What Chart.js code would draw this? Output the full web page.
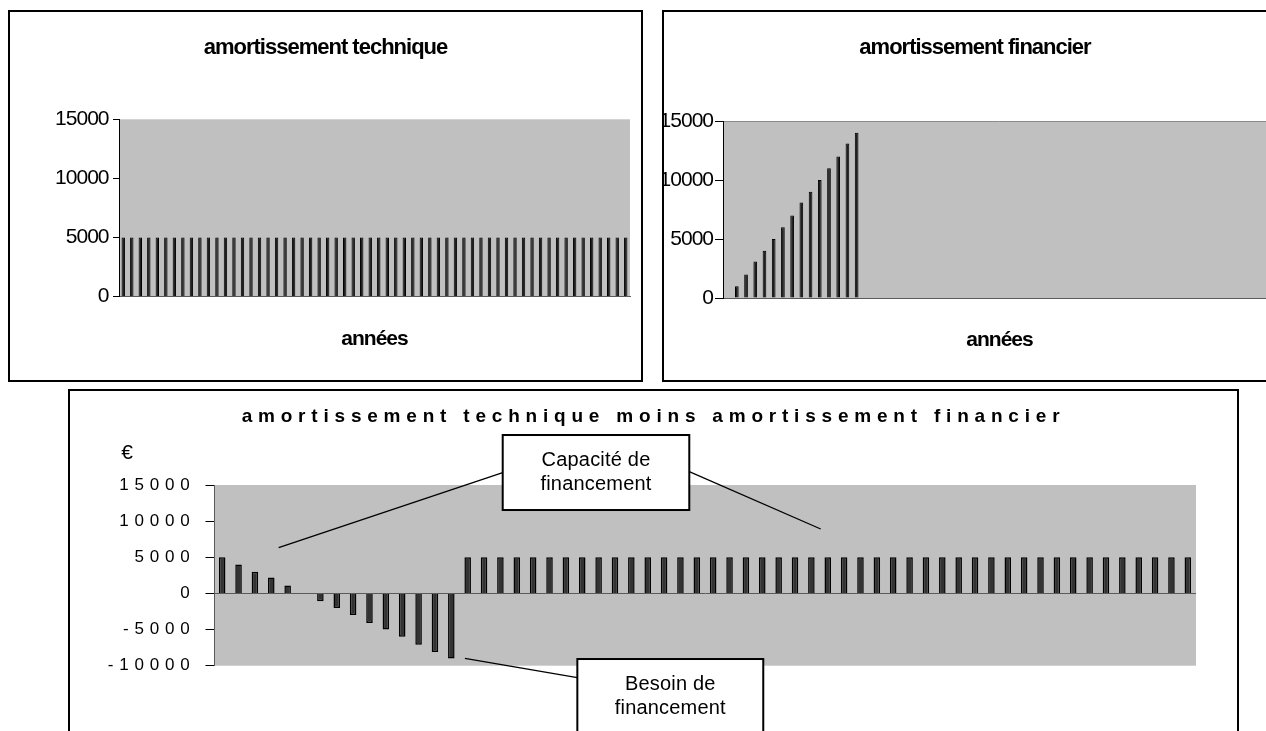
<!DOCTYPE html>
<html>
<head>
<meta charset="utf-8">
<title>amortissement technique / financier</title>
<script src="https://cdn.jsdelivr.net/npm/chart.js@4.4.1/dist/chart.umd.min.js"></script>
<style>
html, body { margin: 0; padding: 0; background: #fff; overflow: hidden; width: 1266px; height: 731px; }
.cadre { position: absolute; border: 2px solid #000; box-sizing: border-box; background: #fff; }
#cadre1 { left: 8px; top: 10px; width: 635px; height: 372px; }
#cadre2 { left: 662px; top: 10px; width: 626px; height: 372px; }
#cadre3 { left: 68px; top: 389px; width: 1171px; height: 400px; }
</style>
</head>
<body>
<div class="cadre" id="cadre1"><canvas id="graphTechnique"></canvas></div>
<div class="cadre" id="cadre2"><canvas id="graphFinancier"></canvas></div>
<div class="cadre" id="cadre3"><canvas id="graphDifference"></canvas></div>

<script>
// Années (catégories)
var annees = [1, 2, 3, 4, 5, 6, 7, 8, 9, 10, 11, 12, 13, 14, 15, 16, 17, 18, 19, 20,
    21, 22, 23, 24, 25, 26, 27, 28, 29, 30, 31, 32, 33, 34, 35, 36, 37, 38, 39, 40,
    41, 42, 43, 44, 45, 46, 47, 48, 49, 50, 51, 52, 53, 54, 55, 56, 57, 58, 59, 60];

// Amortissement technique (constant)
var amortTechnique = [5000, 5000, 5000, 5000, 5000, 5000, 5000, 5000, 5000, 5000,
    5000, 5000, 5000, 5000, 5000, 5000, 5000, 5000, 5000, 5000,
    5000, 5000, 5000, 5000, 5000, 5000, 5000, 5000, 5000, 5000,
    5000, 5000, 5000, 5000, 5000, 5000, 5000, 5000, 5000, 5000,
    5000, 5000, 5000, 5000, 5000, 5000, 5000, 5000, 5000, 5000,
    5000, 5000, 5000, 5000, 5000, 5000, 5000, 5000, 5000, 5000];

// Amortissement financier (remboursement de l'emprunt)
var amortFinancier = [0, 1000, 2000, 3100, 4000, 5000, 6000, 7000, 8100, 9000,
    10000, 11000, 12000, 13100, 14000, 0, 0, 0, 0, 0,
    0, 0, 0, 0, 0, 0, 0, 0, 0, 0,
    0, 0, 0, 0, 0, 0, 0, 0, 0, 0,
    0, 0, 0, 0, 0, 0, 0, 0, 0, 0,
    0, 0, 0, 0, 0, 0, 0, 0, 0, 0];

// Technique moins financier
var difference = [5000, 4000, 3000, 2200, 1100, 0, -1100, -2000, -3000, -4100,
    -5000, -6000, -7100, -8100, -9000, 5000, 5000, 5000, 5000, 5000,
    5000, 5000, 5000, 5000, 5000, 5000, 5000, 5000, 5000, 5000,
    5000, 5000, 5000, 5000, 5000, 5000, 5000, 5000, 5000, 5000,
    5000, 5000, 5000, 5000, 5000, 5000, 5000, 5000, 5000, 5000,
    5000, 5000, 5000, 5000, 5000, 5000, 5000, 5000, 5000, 5000];

// Graduations des axes
var ticksHaut = [0, 5000, 10000, 15000];
var ticksBas = [-10000, -5000, 0, 5000, 10000, 15000];

var police = '"Liberation Sans", Arial, sans-serif';

// Fond gris de la zone de tracé + espacement des lettres
var fondGris = {
    id: 'fondGris',
    beforeDraw: function(chart, args, opts) {
        var ctx = chart.ctx;
        var a = chart.chartArea;
        ctx.letterSpacing = opts.espacement || '0px';
        ctx.save();
        ctx.fillStyle = '#c0c0c0';
        ctx.fillRect(a.left, a.top, a.right - a.left, a.bottom - a.top);
        if (opts.bordHaut) {
            ctx.strokeStyle = '#8a8a8a';
            ctx.lineWidth = 1;
            ctx.beginPath();
            ctx.moveTo(a.left, a.top + 0.5);
            ctx.lineTo(a.right, a.top + 0.5);
            ctx.stroke();
        }
        ctx.restore();
    }
};

// Bulles de commentaire du graphique du bas (positions en unités des axes)
var bulles = {
    id: 'bulles',
    afterDraw: function(chart, args, opts) {
        if (!opts.liste) return;
        var ctx = chart.ctx;
        var sx = chart.scales.x;
        var sy = chart.scales.y;
        var a = chart.chartArea;
        ctx.save();
        ctx.letterSpacing = '0px';
        ctx.fillStyle = '#000';
        ctx.font = '21px ' + police;
        ctx.textAlign = 'center';
        ctx.textBaseline = 'middle';
        ctx.fillText('€', a.left - 87, a.top - 32);

        ctx.letterSpacing = '0.2px';
        ctx.font = '20px ' + police;
        ctx.strokeStyle = '#000';
        opts.liste.forEach(function(b) {
            ctx.lineWidth = 1.3;
            b.traits.forEach(function(t) {
                ctx.beginPath();
                ctx.moveTo(sx.getPixelForValue(t[0]), sy.getPixelForValue(t[1]));
                ctx.lineTo(sx.getPixelForValue(t[2]), sy.getPixelForValue(t[3]));
                ctx.stroke();
            });
            var x1 = sx.getPixelForValue(b.gauche);
            var x2 = sx.getPixelForValue(b.droite);
            var y1 = sy.getPixelForValue(b.haut);
            var y2 = sy.getPixelForValue(b.bas);
            ctx.fillStyle = '#fff';
            ctx.fillRect(x1, y1, x2 - x1, y2 - y1);
            ctx.lineWidth = 2;
            ctx.strokeRect(x1, y1, x2 - x1, y2 - y1);
            ctx.fillStyle = '#000';
            b.texte.forEach(function(ligne, i) {
                ctx.fillText(ligne, (x1 + x2) / 2, y1 + 25 + i * 24.5);
            });
        });
        ctx.restore();
    }
};

// Axe vide à droite : réserve la marge sans décaler le titre
function axeDroit(largeur) {
    return {
        position: 'right',
        display: true,
        afterFit: function(s) { s.width = largeur; },
        grid: { display: false },
        border: { display: false },
        ticks: { display: false }
    };
}

// Graphique du haut (technique ou financier)
function creerGraphiqueHaut(id, titre, valeurs, reglages) {
    var ctx = document.getElementById(id).getContext('2d');
    return new Chart(ctx, {
        type: 'bar',
        data: {
            labels: annees,
            datasets: [{
                data: valeurs,
                backgroundColor: '#1e1e1e',
                borderColor: '#000',
                borderWidth: 1,
                barPercentage: 0.4,
                categoryPercentage: 1
            }]
        },
        options: {
            responsive: true,
            maintainAspectRatio: false,
            animation: false,
            events: [],
            layout: { padding: 0 },
            plugins: {
                legend: { display: false },
                tooltip: { enabled: false },
                title: {
                    display: true,
                    text: titre,
                    color: '#000',
                    font: { family: police, size: 22, weight: 'bold' },
                    padding: { top: 23.1, bottom: reglages.titreBas }
                },
                fondGris: { espacement: '-1px', bordHaut: reglages.bordHaut },
                bulles: {}
            },
            scales: {
                x: {
                    afterFit: function(s) { s.height = reglages.hauteurX; },
                    border: { display: true, color: '#5a5a5a', width: 1 },
                    grid: { display: false },
                    ticks: { display: false },
                    title: {
                        display: true,
                        text: 'années',
                        color: '#000',
                        font: { family: police, size: 21, weight: 'bold' },
                        padding: { top: 0, bottom: reglages.anneesBas }
                    }
                },
                y: {
                    min: ticksHaut[0],
                    max: ticksHaut[ticksHaut.length - 1],
                    afterBuildTicks: function(s) {
                        s.ticks = ticksHaut.map(function(v) { return { value: v }; });
                    },
                    afterFit: function(s) { s.width = reglages.largeurY; },
                    border: { display: true, color: '#000', width: 1 },
                    grid: { display: true, drawOnChartArea: false, drawTicks: true, tickLength: reglages.trait, tickColor: '#000' },
                    ticks: {
                        color: '#000',
                        padding: reglages.ecart,
                        font: { family: police, size: 21 },
                        callback: function(v) { return String(v); }
                    }
                },
                marge: axeDroit(reglages.droite)
            }
        },
        plugins: [fondGris, bulles]
    });
}

creerGraphiqueHaut('graphTechnique', 'amortissement technique', amortTechnique,
    { droite: 11, titreBas: 57.8, hauteurX: 83.5, anneesBas: 28.4, largeurY: 109, trait: 6, ecart: 4.5, bordHaut: false });

creerGraphiqueHaut('graphFinancier', 'amortissement financier', amortFinancier,
    { droite: 10, titreBas: 59.5, hauteurX: 82, anneesBas: 27.4, largeurY: 59, trait: 8, ecart: 2, bordHaut: true });

// Graphique du bas : différence
var ctxBas = document.getElementById('graphDifference').getContext('2d');
var graphBas = new Chart(ctxBas, {
    type: 'bar',
    data: {
        labels: annees,
        datasets: [{
            data: difference,
            backgroundColor: '#333333',
            borderColor: '#000',
            borderWidth: 1.5,
            barPercentage: 0.4,
            categoryPercentage: 1
        }]
    },
    options: {
        responsive: true,
        maintainAspectRatio: false,
        animation: false,
        events: [],
        layout: { padding: { left: 0, right: 0, top: 0, bottom: 121.3 } },
        plugins: {
            legend: { display: false },
            tooltip: { enabled: false },
            title: {
                display: true,
                text: 'amortissement technique moins amortissement financier',
                color: '#000',
                font: { family: police, size: 19, weight: 'bold' },
                padding: { top: 14.3, bottom: 56.9 }
            },
            fondGris: { espacement: '5.8px' },
            bulles: {
                liste: [
                    {
                        texte: ['Capacité de', 'financement'],
                        gauche: 17.14, droite: 28.54, haut: 21915, bas: 11539,
                        traits: [[17.14, 16700, 3.45, 6323], [28.54, 16838, 36.57, 8910]]
                    },
                    {
                        texte: ['Besoin de', 'financement'],
                        gauche: 21.70, droite: 33.06, haut: -9076, bas: -21000,
                        traits: [[21.70, -11663, 14.83, -8979]]
                    }
                ]
            }
        },
        scales: {
            x: { display: false },
            y: {
                min: ticksBas[0],
                max: ticksBas[ticksBas.length - 1],
                afterBuildTicks: function(s) {
                    s.ticks = ticksBas.map(function(v) { return { value: v }; });
                },
                afterFit: function(s) { s.width = 144; },
                border: { display: true, color: '#5a5a5a', width: 1 },
                grid: {
                    display: true,
                    drawOnChartArea: true,
                    drawTicks: true,
                    tickLength: 8.5,
                    tickColor: '#000',
                    color: function(c) {
                        return (c.tick && c.tick.value === 0) ? '#5a5a5a' : 'rgba(0,0,0,0)';
                    }
                },
                ticks: {
                    color: '#000',
                    padding: 10.1,
                    font: { family: police, size: 17 },
                    callback: function(v) { return String(v); }
                }
            },
            marge: axeDroit(41)
        }
    },
    plugins: [fondGris, bulles]
});
</script>
</body>
</html>
